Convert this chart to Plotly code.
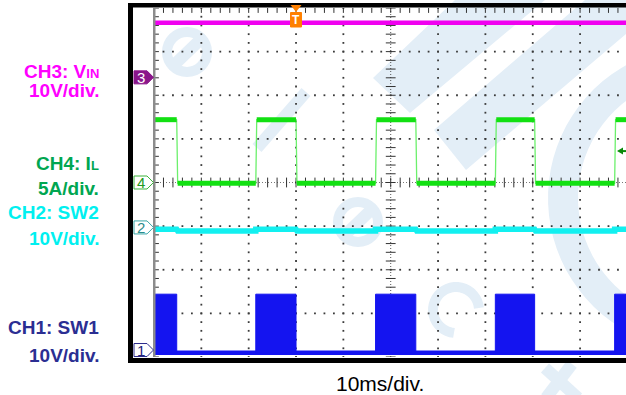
import numpy as np
import plotly.graph_objects as go

# ---------------- data ----------------
t_start_ms = 0.0
t_end_ms = 99.7                      # visible part of the 10 x 10 ms screen
fall_times_ms = [4.8, 30.0, 55.3, 80.4]
rise_times_ms = [21.5, 46.8, 72.1, 97.3]

vin_times_ms = [0.0, 99.7]
vin_V = [12.5, 12.5]                 # CH3 VIN

il_high_A = 7.2                      # CH4 IL
il_low_A = -0.1

sw2_on_V = -0.4                      # CH2 SW2 during the switching bursts
sw2_off_V = -0.8

sw1_high_V = 12.8                    # CH1 SW1 burst envelope
sw1_low_V = -0.6

ch_offsets_div = {"CH3": 2.41, "CH4": 0.0, "CH2": -1.03, "CH1": -3.84}
ch_scales = {"CH3": 10.0, "CH4": 5.0, "CH2": 10.0, "CH1": 10.0}
ch_units = {"CH3": "10V/div.", "CH4": "5A/div.", "CH2": "10V/div.", "CH1": "10V/div."}
ch_titles = {"CH3": "CH3: V<span style='font-size:13px'>IN</span>",
             "CH4": "CH4: I<span style='font-size:13px'>L</span>",
             "CH2": "CH2: SW2", "CH1": "CH1: SW1"}
time_scale_label = "10ms/div."

trigger_time_ms = 30.0
trigger_level_A = 3.6

# ---------------- layout geometry ----------------
W, H = 626, 395
PL, PR, PT, PB = 154, 626, 8, 357
DIV_Y = (PB - PT) / 8.0


def px_x(px):
    return (px - PL) / (PR - PL)


def px_y(py):
    return (PB - py) / (PB - PT)


def div_to_paper(yd):
    return (yd + 4.0) / 8.0


def to_div(ch, v):
    return ch_offsets_div[ch] + v / ch_scales[ch]


def path_px(points, close=True):
    s = "M " + " L ".join(f"{px_x(x):.5f},{px_y(y):.5f}" for x, y in points)
    return s + (" Z" if close else "")


on_starts = [t_start_ms] + rise_times_ms
on_ends = fall_times_ms + [t_end_ms]
on_intervals = list(zip(on_starts, on_ends))
off_intervals = list(zip(fall_times_ms, rise_times_ms))
EDGE = 0.2

fig = go.Figure()

# ---------------- graticule ----------------
ys_minor = np.arange(-4, 4.0001, 0.2)
xs_minor = np.arange(0, 100.001, 2.0)
dx, dy = [], []
for xv in [10, 20, 30, 40, 60, 70, 80, 90]:
    dx += [xv] * len(ys_minor)
    dy += list(ys_minor)
for yh in [-3, -2, -1, 1, 2, 3]:
    dx += list(xs_minor)
    dy += [yh] * len(xs_minor)
fig.add_trace(go.Scatter(x=dx, y=dy, mode="markers", hoverinfo="skip",
                         marker=dict(symbol="square", size=1.8, color="#3a3a3a",
                                     line=dict(width=0))))
# center-line ticks and edge ticks
fig.add_trace(go.Scatter(x=[50] * len(ys_minor) + [0] * len(ys_minor), y=list(ys_minor) * 2,
                         mode="markers", hoverinfo="skip",
                         marker=dict(symbol="line-ew", size=7,
                                     line=dict(width=1, color="#333333"))))
fig.add_trace(go.Scatter(x=list(xs_minor) * 2, y=[0] * len(xs_minor) + [4] * len(xs_minor),
                         mode="markers", hoverinfo="skip",
                         marker=dict(symbol="line-ns", size=7,
                                     line=dict(width=1, color="#333333"))))

# ---------------- CH3 VIN ----------------
fig.add_trace(go.Scatter(x=vin_times_ms, y=[to_div("CH3", v) for v in vin_V],
                         mode="lines", hoverinfo="skip",
                         line=dict(color="#f000f0", width=4.5)))

# ---------------- CH4 IL ----------------
gx, gy = [], []
for s, e in on_intervals:
    if s > t_start_ms:
        gx += [s, s + EDGE]
        gy += [to_div("CH4", il_low_A), to_div("CH4", il_high_A)]
    else:
        gx.append(s)
        gy.append(to_div("CH4", il_high_A))
    gx.append(e)
    gy.append(to_div("CH4", il_high_A))
    if e < t_end_ms:
        gx.append(e + EDGE)
        gy.append(to_div("CH4", il_low_A))
fig.add_trace(go.Scatter(x=gx, y=gy, mode="lines", hoverinfo="skip",
                         line=dict(color="#6cf06c", width=1.3)))
px_, py_ = [], []
for s, e in on_intervals:
    px_ += [s + (EDGE if s > t_start_ms else 0), e, None]
    py_ += [to_div("CH4", il_high_A)] * 2 + [None]
for s, e in off_intervals:
    px_ += [s + EDGE, e, None]
    py_ += [to_div("CH4", il_low_A)] * 2 + [None]
fig.add_trace(go.Scatter(x=px_, y=py_, mode="lines", hoverinfo="skip",
                         line=dict(color="#12e012", width=5)))

# ---------------- CH2 SW2 ----------------
cx, cy = [], []
for s, e in on_intervals:
    cx += [s, e]
    cy += [to_div("CH2", sw2_on_V)] * 2
    if e < t_end_ms:
        nxt = [r for r in rise_times_ms if r > e]
        cx += [e + EDGE, nxt[0] if nxt else t_end_ms]
        cy += [to_div("CH2", sw2_off_V)] * 2
fig.add_trace(go.Scatter(x=cx, y=cy, mode="lines", hoverinfo="skip",
                         line=dict(color="#12f0f0", width=5.5)))

# ---------------- CH1 SW1 ----------------
fig.add_trace(go.Scatter(x=[t_start_ms, t_end_ms],
                         y=[to_div("CH1", sw1_low_V)] * 2, mode="lines", hoverinfo="skip",
                         line=dict(color="#1414f0", width=4.5)))
bx, by = [], []
for s, e in on_intervals:
    lo, hi = to_div("CH1", sw1_low_V), to_div("CH1", sw1_high_V)
    bx += [s, s, e, e, s, None]
    by += [lo, hi, hi, lo, lo, None]
fig.add_trace(go.Scatter(x=bx, y=by, mode="lines", fill="toself", hoverinfo="skip",
                         fillcolor="#1414f0", line=dict(color="#1414f0", width=1)))

# ---------------- shapes ----------------
shapes = []
WM = "#e3eef7"
# watermark
shapes.append(dict(type="path", xref="paper", yref="paper", layer="below", line=dict(width=0),
                   fillcolor=WM, path=path_px([(455, 0), (373, 78), (410, 113), (545, 0)])))
shapes.append(dict(type="path", xref="paper", yref="paper", layer="below", line=dict(width=0),
                   fillcolor=WM, path=path_px([(585, 0), (434, 130), (466, 170), (640, 22), (640, 0)])))
ang = np.radians(np.linspace(95, 265, 40))
outer = [(700 + 152 * np.cos(a), 198 - 152 * np.sin(a)) for a in ang]
inner = [(700 + 122 * np.cos(a), 198 - 122 * np.sin(a)) for a in ang[::-1]]
shapes.append(dict(type="path", xref="paper", yref="paper", layer="below", line=dict(width=0),
                   fillcolor=WM, path=path_px(outer + inner)))
for (ccx, ccy, r) in [(187, 52, 20), (358, 222, 20)]:
    shapes.append(dict(type="circle", xref="paper", yref="paper", layer="below",
                       x0=px_x(ccx - r), x1=px_x(ccx + r), y0=px_y(ccy + r), y1=px_y(ccy - r),
                       line=dict(color=WM, width=10)))
for (x0, y0, x1, y1) in [(306, 92, 257, 148), (175, 64, 200, 40), (346, 234, 371, 210),
                         (545, 368, 578, 398), (572, 364, 546, 398)]:
    shapes.append(dict(type="line", xref="paper", yref="paper", layer="below",
                       x0=px_x(x0), y0=px_y(y0), x1=px_x(x1), y1=px_y(y1),
                       line=dict(color=WM, width=12)))
ca = np.radians(np.linspace(5, 265, 30))
shapes.append(dict(type="path", xref="paper", yref="paper", layer="below",
                   line=dict(color=WM, width=10),
                   path=path_px([(456 + 23 * np.cos(a), 310 - 23 * np.sin(a)) for a in ca], close=False)))

# center dense dotted lines
shapes.append(dict(type="line", xref="x", yref="y", layer="below", x0=50, x1=50, y0=-4, y1=4,
                   line=dict(color="#555555", width=1, dash="1px,2px")))
shapes.append(dict(type="line", xref="x", yref="y", layer="below", x0=0, x1=100, y0=0, y1=0,
                   line=dict(color="#777777", width=1, dash="1px,2px")))
# left grey edge
shapes.append(dict(type="rect", xref="paper", yref="paper", layer="above",
                   x0=px_x(153), x1=px_x(155.5), y0=px_y(PB), y1=px_y(PT),
                   fillcolor="#8c8c8c", line=dict(width=0)))
# black frame
for (x0, x1, y0, y1) in [(128, 133, 3, 363), (128, 640, 3, 7.5), (128, 640, 358, 363)]:
    shapes.append(dict(type="rect", xref="paper", yref="paper", layer="above",
                       x0=px_x(x0), x1=px_x(x1), y0=px_y(y1), y1=px_y(y0),
                       fillcolor="black", line=dict(width=0)))

# channel markers
marker_style = {"CH3": ("#8a168a", "#8a168a", "white"),
                "CH4": ("white", "#3cb43c", "#229922"),
                "CH2": ("white", "#3aa6a6", "#2a8c8c"),
                "CH1": ("white", "#2a2a8c", "#22227a")}
marker_num = {"CH3": "3", "CH4": "4", "CH2": "2", "CH1": "1"}
annotations = []
hh = 6.5 / DIV_Y
for ch, (fill, edge, tcol) in marker_style.items():
    yc = ch_offsets_div[ch]
    pts = [(134, yc + hh), (147, yc + hh), (153.5, yc), (147, yc - hh), (134, yc - hh)]
    path = "M " + " L ".join(f"{px_x(x):.5f},{div_to_paper(y):.5f}" for x, y in pts) + " Z"
    shapes.append(dict(type="path", xref="paper", yref="paper", layer="above", path=path,
                       fillcolor=fill, line=dict(color=edge, width=1)))
    annotations.append(dict(xref="paper", yref="paper", x=px_x(141), y=div_to_paper(yc),
                            text=marker_num[ch], showarrow=False, xanchor="center",
                            yanchor="middle",
                            font=dict(family="Liberation Sans, Arial", size=15,
                                      color=tcol)))

# trigger position marker (orange T)
tx = trigger_time_ms / t_end_ms
dxp = 5.5 / (PR - PL)
shapes.append(dict(type="path", xref="paper", yref="paper", layer="above",
                   path=f"M {tx - dxp:.5f},{px_y(5):.5f} L {tx + dxp:.5f},{px_y(5):.5f} "
                        f"L {tx:.5f},{px_y(12):.5f} Z",
                   fillcolor="#ff8000", line=dict(width=0)))
shapes.append(dict(type="rect", xref="paper", yref="paper", layer="above",
                   x0=tx - dxp, x1=tx + dxp, y0=px_y(27), y1=px_y(12.5),
                   fillcolor="#ff8000", line=dict(color="#ff8000", width=1)))
annotations.append(dict(xref="paper", yref="paper", x=tx, y=px_y(20), text="<b>T</b>",
                        showarrow=False, xanchor="center", yanchor="middle",
                        font=dict(family="Arial", size=12, color="white")))

# trigger level arrow (CH4)
ty = div_to_paper(to_div("CH4", trigger_level_A))
hy = 3.5 / (PB - PT)
shapes.append(dict(type="path", xref="paper", yref="paper", layer="above",
                   path=f"M {px_x(617):.5f},{ty:.5f} L {px_x(623):.5f},{ty + hy:.5f} "
                        f"L {px_x(623):.5f},{ty - hy:.5f} Z",
                   fillcolor="#0a8a0a", line=dict(width=0)))
shapes.append(dict(type="line", xref="paper", yref="paper", layer="above",
                   x0=px_x(620), x1=px_x(627), y0=ty, y1=ty,
                   line=dict(color="#0a8a0a", width=2)))

# ---------------- left labels ----------------
label_colors = {"CH3": "#ff00ff", "CH4": "#00a651", "CH2": "#00f0f0", "CH1": "#2b2e92"}
label_rows = {"CH3": (72, 91), "CH4": (163, 188), "CH2": (213, 238), "CH1": (327, 355)}
for ch, (y1, y2) in label_rows.items():
    for yy, txt in [(y1, ch_titles[ch]), (y2, ch_units[ch])]:
        annotations.append(dict(xref="paper", yref="paper", x=px_x(101), y=px_y(yy),
                                text=f"<b>{txt}</b>", showarrow=False, xanchor="right",
                                yanchor="middle",
                                font=dict(family="Liberation Sans, Arial", size=19,
                                          color=label_colors[ch])))
annotations.append(dict(xref="paper", yref="paper", x=px_x(380), y=px_y(383),
                        text=time_scale_label, showarrow=False, xanchor="center",
                        yanchor="middle",
                        font=dict(family="Liberation Sans, Arial", size=21, color="black")))

fig.update_layout(
    width=W, height=H,
    margin=dict(l=PL, r=W - PR, t=PT, b=H - PB, pad=0),
    paper_bgcolor="white", plot_bgcolor="white",
    showlegend=False,
    xaxis=dict(range=[t_start_ms, t_end_ms], showgrid=False, zeroline=False,
               showticklabels=False, showline=False, ticks="", fixedrange=True),
    yaxis=dict(range=[-4, 4], showgrid=False, zeroline=False,
               showticklabels=False, showline=False, ticks="", fixedrange=True),
    shapes=shapes, annotations=annotations,
)

fig.write_html("out.html", config={"displayModeBar": False},
               post_script="document.body.style.margin='0';document.body.style.overflow='hidden';")
